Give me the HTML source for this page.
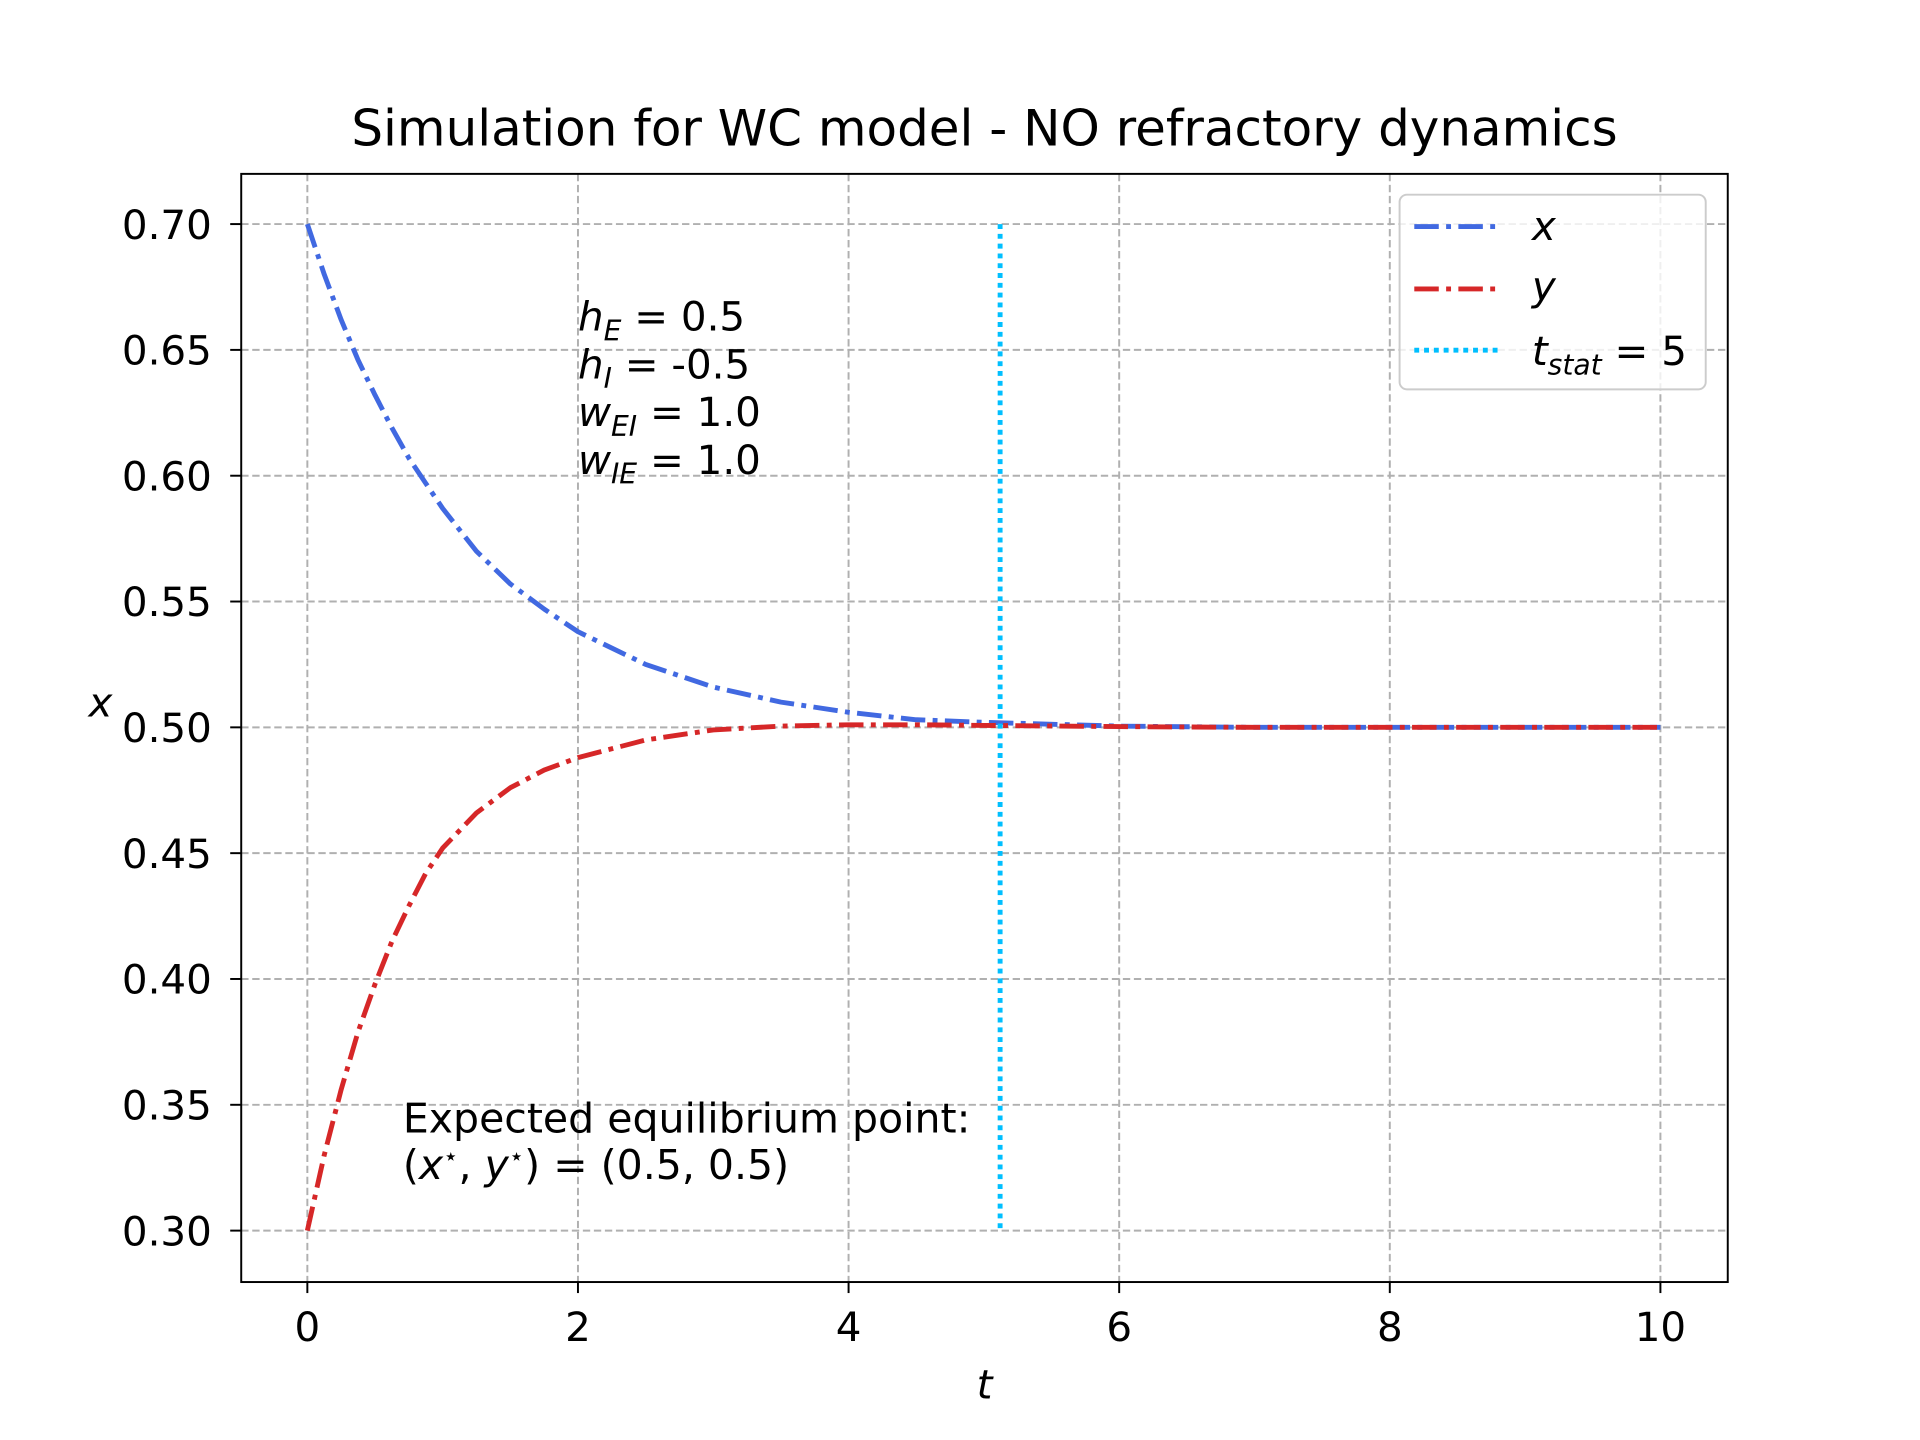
<!DOCTYPE html>
<html><head><meta charset="utf-8"><style>
html,body{margin:0;padding:0;background:#fff}
svg{display:block;font-family:"DejaVu Sans","Liberation Sans",sans-serif}
</style></head><body>
<svg id="chart" width="1920" height="1440" viewBox="0 0 1568 1176">
<rect width="1568" height="1176" fill="#fff"/>
<g id="grid"></g>
<g id="series"></g>
<rect x="197" y="142" width="1214" height="905" fill="none" stroke="#000" stroke-width="1.6"/>
<g id="ticks" font-size="33" fill="#000"></g>
<text x="804" y="119" text-anchor="middle" font-size="40.8">Simulation for WC model - NO refractory dynamics</text>
<text x="804" y="1142" text-anchor="middle" font-size="33" font-style="italic">t</text>
<text x="82" y="585" text-anchor="middle" font-size="33" font-style="italic">x</text>
<g font-size="33">
<text x="472" y="270"><tspan font-style="italic">h</tspan><tspan font-size="23" dy="8" font-style="italic">E</tspan><tspan dy="-8"> = 0.5</tspan></text>
<text x="472" y="309"><tspan font-style="italic">h</tspan><tspan font-size="23" dy="8" font-style="italic">I</tspan><tspan dy="-8"> = -0.5</tspan></text>
<text x="472" y="348"><tspan font-style="italic">w</tspan><tspan font-size="23" dy="8" font-style="italic">EI</tspan><tspan dy="-8"> = 1.0</tspan></text>
<text x="472" y="387"><tspan font-style="italic">w</tspan><tspan font-size="23" dy="8" font-style="italic">IE</tspan><tspan dy="-8"> = 1.0</tspan></text>
</g>
<g font-size="33.5">
<text x="329" y="925">Expected equilibrium point:</text>
<text x="329" y="963">(<tspan font-style="italic">x</tspan><tspan font-size="20" dy="-12">⋆</tspan><tspan dy="12">, </tspan><tspan font-style="italic">y</tspan><tspan font-size="20" dy="-12">⋆</tspan><tspan dy="12">) = (0.5, 0.5)</tspan></text>
</g>
<g>
<rect x="1143" y="159" width="250" height="159" rx="6" fill="#fff" fill-opacity="0.8" stroke="#ccc" stroke-width="1.6"/>
<line x1="1155" y1="185" x2="1225" y2="185" stroke="#4169e1" stroke-width="4" stroke-dasharray="20 6 4 6"/>
<text x="1251" y="196" font-size="33" font-style="italic">x</text>
<line x1="1155" y1="236" x2="1225" y2="236" stroke="#d62728" stroke-width="4" stroke-dasharray="20 6 4 6"/>
<text x="1251" y="245" font-size="33" font-style="italic">y</text>
<line x1="1155" y1="286" x2="1225" y2="286" stroke="#00bfff" stroke-width="4" stroke-dasharray="4 4"/>
<text x="1251" y="298" font-size="33"><tspan font-style="italic">t</tspan><tspan font-size="23" dy="8" font-style="italic">stat</tspan><tspan dy="-8"> = 5</tspan></text>
</g>
</svg>
<script>
const tValues=[0,0.125,0.25,0.375,0.5,0.625,0.75,0.875,1,1.25,1.5,1.75,2,2.5,3,3.5,4,4.5,5,6,7,8,9,10];
const xSeries=[0.70,0.68,0.662,0.646,0.632,0.619,0.607,0.597,0.587,0.570,0.557,0.547,0.538,0.525,0.516,0.510,0.506,0.503,0.502,0.5005,0.5,0.5,0.5,0.5];
const ySeries=[0.30,0.330,0.356,0.379,0.398,0.415,0.429,0.442,0.452,0.466,0.476,0.483,0.488,0.495,0.499,0.5005,0.501,0.501,0.5008,0.5003,0.5,0.5,0.5,0.5];
const xTicks=[0,2,4,6,8,10];
const yTicks=[0.30,0.35,0.40,0.45,0.50,0.55,0.60,0.65,0.70];
const tStat=[5.12];
const NS='http://www.w3.org/2000/svg';
const sx=t=>251+t*110.5;
const sy=v=>183+(0.70-v)*2055;
function mk(tag,attrs,parent){const e=document.createElementNS(NS,tag);for(const k in attrs)e.setAttribute(k,attrs[k]);parent.appendChild(e);return e;}
const grid=document.getElementById('grid'),ticks=document.getElementById('ticks'),series=document.getElementById('series');
xTicks.forEach(t=>{
 const g=mk('line',{x1:sx(t),x2:sx(t),y1:142,y2:1047,stroke:'#b0b0b0','stroke-width':1.6,'stroke-dasharray':'6 3'},grid);
 
 
 const tk=mk('line',{x1:sx(t),x2:sx(t),y1:1047,y2:1056,stroke:'#000','stroke-width':1.6},ticks);
 
 
 const tx=mk('text',{x:sx(t),y:1095,'text-anchor':'middle'},ticks);tx.textContent=t;
 
 
});
yTicks.forEach(v=>{
 const g=mk('line',{x1:197,x2:1411,y1:sy(v),y2:sy(v),stroke:'#b0b0b0','stroke-width':1.6,'stroke-dasharray':'6 3'},grid);
 
 
 const tk=mk('line',{x1:188,x2:197,y1:sy(v),y2:sy(v),stroke:'#000','stroke-width':1.6},ticks);
 
 
 const tx=mk('text',{x:173,y:sy(v)+12,'text-anchor':'end'},ticks);tx.textContent=v.toFixed(2);
 
 
});
function path(vals){return vals.map((v,i)=>(i?'L':'M')+sx(tValues[i]).toFixed(1)+' '+sy(v).toFixed(1)).join(' ');}
const px=mk('path',{d:path(xSeries),fill:'none',stroke:'#4169e1','stroke-width':4,'stroke-dasharray':'20 6 4 6','stroke-linejoin':'round'},series);


const py=mk('path',{d:path(ySeries),fill:'none',stroke:'#d62728','stroke-width':4,'stroke-dasharray':'20 6 4 6','stroke-linejoin':'round'},series);


tStat.forEach(t=>{
 const l=mk('line',{x1:sx(t),x2:sx(t),y1:sy(0.70),y2:sy(0.30),stroke:'#00bfff','stroke-width':4,'stroke-dasharray':'4 4'},series);
 
 
});
</script>
</body></html>
